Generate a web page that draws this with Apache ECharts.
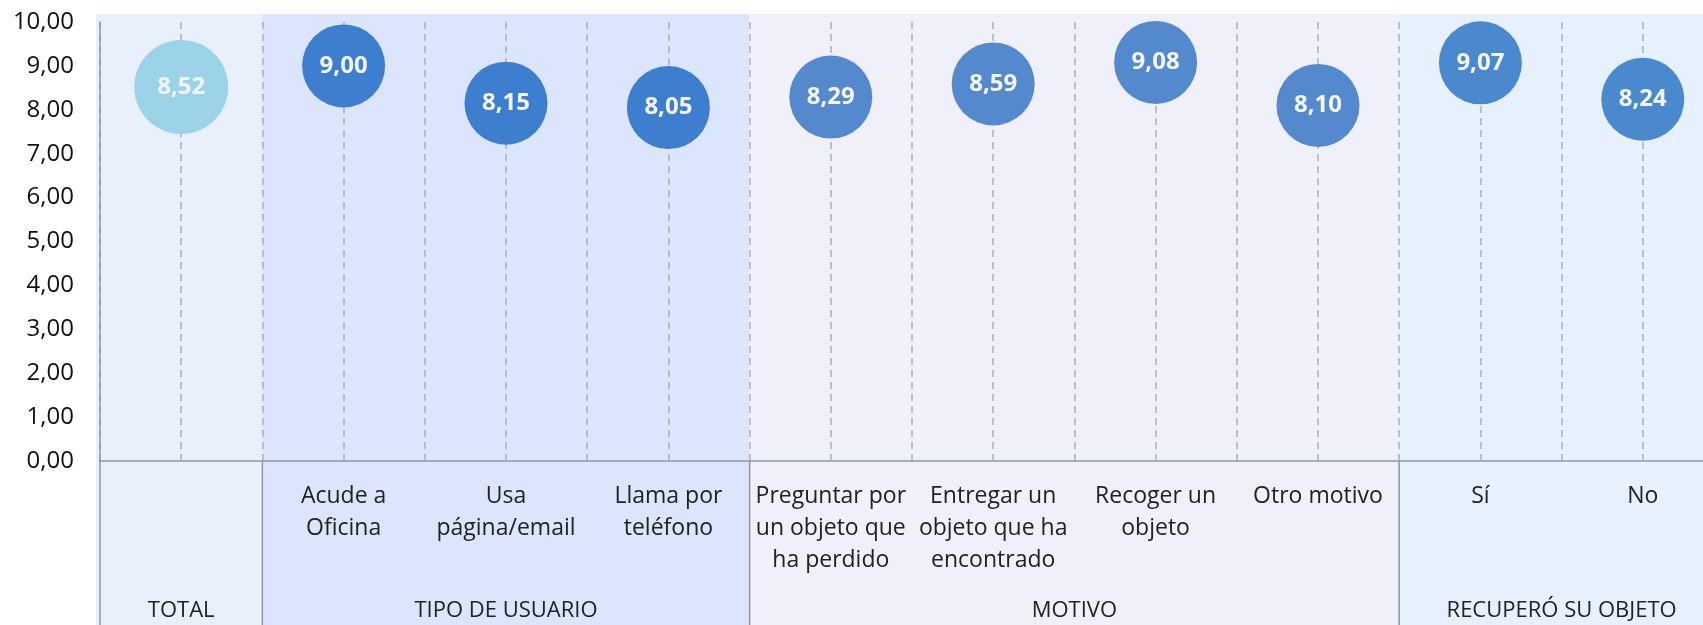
<!DOCTYPE html>
<html>
<head>
<meta charset="utf-8">
<script src="https://cdn.jsdelivr.net/npm/echarts@6/dist/echarts.min.js"></script>
<style>
  html, body { margin: 0; padding: 0; background: #fff; }
  #chart { width: 1703px; height: 625px; }
</style>
</head>
<body>
<div id="chart"></div>
<script>
// datos
var categories = ['TOTAL', 'Acude a\nOficina', 'Usa\npágina/email', 'Llama por\nteléfono',
  'Preguntar por\nun objeto que\nha perdido', 'Entregar un\nobjeto que ha\nencontrado',
  'Recoger un\nobjeto', 'Otro motivo', 'Sí', 'No'];
var values = [8.52, 9.00, 8.15, 8.05, 8.29, 8.59, 9.08, 8.10, 9.07, 8.24];
var groupNames = ['TOTAL', 'TIPO DE USUARIO', 'MOTIVO', 'RECUPERÓ SU OBJETO'];
var groupSizes = [1, 3, 4, 2];
var yMin = 0, yMax = 10, yStep = 1;

// estilos por grupo
var bubbleColors = ['#9DD3E8', '#3D7ECE', '#5489CD', '#4A89CE'];
var bgColors = ['#E8F1FB', '#DBE6FC', '#F0F0FA', '#E7F1FD'];
var bubbleSizes = [94, 83, 83, 83];
var labelColors = ['#EEF6FA', '#F4F8FC', '#F4F8FC', '#F4F8FC'];

var FONT = '"Open Sans"';
var lineCol = '#8F99A5';
var dashCol = '#ABB0B8';
var txtCol = '#222';

function coma(v) { return v.toFixed(2).replace('.', ','); }

var chart = echarts.init(document.getElementById('chart'));

// una serie por grupo
var series = [];
var start = 0;
groupSizes.forEach(function (n, g) {
  var data = [];
  for (var i = start; i < start + n; i++) data.push([i, values[i]]);
  series.push({
    type: 'scatter',
    name: groupNames[g],
    data: data,
    z: 5,
    symbolSize: bubbleSizes[g],
    itemStyle: { color: bubbleColors[g], opacity: 1 },
    label: {
      show: true, position: 'inside',
      color: labelColors[g], fontFamily: FONT, fontWeight: 'bold', fontSize: 24,
      formatter: function (p) { return coma(p.value[1]); }
    }
  });
  start += n;
});

// lineas discontinuas en el centro de cada categoria
series.push({
  type: 'scatter',
  data: [],
  z: 1,
  silent: true,
  markLine: {
    silent: true,
    symbol: ['none', 'none'],
    label: { show: false },
    lineStyle: { color: dashCol, type: [7, 5], width: 1.5 },
    data: categories.map(function (c, i) { return { xAxis: i }; })
  }
});

chart.setOption({
  animation: false,
  grid: { left: 100, right: -21, top: 22, bottom: 164, outerBoundsMode: 'none', containLabel: false },
  xAxis: {
    type: 'category',
    data: categories,
    boundaryGap: true,
    axisLine: { show: true, lineStyle: { color: lineCol, width: 1.5 } },
    axisTick: { show: false },
    axisLabel: {
      interval: 0, margin: 19,
      color: txtCol, fontFamily: FONT, fontSize: 23, lineHeight: 32,
      // el total no lleva etiqueta de categoria
      formatter: function (v, i) { return i === 0 ? '' : v; }
    },
    splitLine: { show: true, interval: 0, lineStyle: { color: dashCol, type: [7, 5], width: 1.5 } }
  },
  yAxis: {
    type: 'value',
    min: yMin, max: yMax, interval: yStep,
    axisLine: { show: true, lineStyle: { color: lineCol, width: 1.5 } },
    axisTick: { show: false },
    splitLine: { show: false },
    axisLabel: { margin: 26, color: '#111', fontFamily: FONT, fontSize: 24, formatter: coma }
  },
  series: series
});

// fondos, separadores y titulos de grupo
var x0 = chart.convertToPixel({ xAxisIndex: 0 }, 0);
var band = chart.convertToPixel({ xAxisIndex: 0 }, 1) - x0;
var yTop = chart.convertToPixel({ yAxisIndex: 0 }, yMax);
var yZero = chart.convertToPixel({ yAxisIndex: 0 }, yMin);
var H = 625;

var graphics = [];
var left = x0 - band / 2;
groupSizes.forEach(function (n, g) {
  var w = n * band;
  var extra = g === 0 ? 4 : 0;
  graphics.push({
    type: 'rect', z: -10, silent: true,
    shape: { x: left - extra, y: yTop - 8, width: w + extra, height: H - yTop + 8 },
    style: { fill: bgColors[g] }
  });
  graphics.push({
    type: 'line', z: 10, silent: true,
    shape: { x1: left, y1: yZero, x2: left, y2: H },
    style: { stroke: lineCol, lineWidth: 1.5 }
  });
  graphics.push({
    type: 'text', z: 10, silent: true,
    x: left + w / 2, y: yZero + 150,
    style: {
      text: groupNames[g], fill: txtCol, font: '22px ' + FONT,
      textAlign: 'center', textVerticalAlign: 'middle'
    }
  });
  left += w;
});
chart.setOption({ graphic: graphics });
</script>
</body>
</html>
